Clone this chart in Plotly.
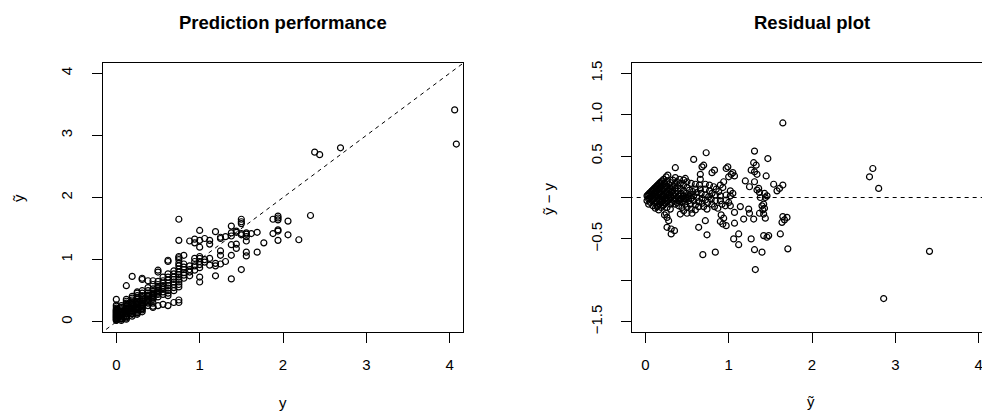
import plotly.graph_objects as go

# Observed responses (y) and their model predictions (ỹ), grouped by observed value
y_obs = [
    0.00, 0.00, 0.00, 0.00, 0.00, 0.00, 0.00, 0.00, 0.00, 0.00, 0.00, 0.00, 0.00, 0.00, 0.00, 0.00, 0.00, 0.00, 0.00,
    0.06, 0.06, 0.06, 0.06, 0.06, 0.06, 0.06, 0.06, 0.06, 0.06, 0.06, 0.06, 0.06,
    0.12, 0.12, 0.12, 0.12, 0.12, 0.12, 0.12, 0.12, 0.12, 0.12, 0.12, 0.12, 0.12, 0.12, 0.12, 0.12, 0.12,
    0.19, 0.19, 0.19, 0.19, 0.19, 0.19, 0.19, 0.19, 0.19, 0.19, 0.19, 0.19, 0.19, 0.19, 0.19, 0.19,
    0.25, 0.25, 0.25, 0.25, 0.25, 0.25, 0.25, 0.25, 0.25, 0.25, 0.25, 0.25, 0.25, 0.25, 0.25, 0.25,
    0.31, 0.31, 0.31, 0.31, 0.31, 0.31, 0.31, 0.31, 0.31, 0.31, 0.31, 0.31, 0.31, 0.31, 0.31,
    0.38, 0.38, 0.38, 0.38, 0.38, 0.38, 0.38, 0.38, 0.38, 0.38,
    0.44, 0.44, 0.44, 0.44, 0.44, 0.44, 0.44, 0.44, 0.44, 0.44, 0.44,
    0.50, 0.50, 0.50, 0.50, 0.50, 0.50, 0.50, 0.50, 0.50, 0.50, 0.50,
    0.56, 0.56, 0.56, 0.56, 0.56, 0.56, 0.56, 0.56, 0.56,
    0.62, 0.62, 0.62, 0.62, 0.62, 0.62, 0.62, 0.62, 0.62, 0.62, 0.62, 0.62,
    0.69, 0.69, 0.69, 0.69, 0.69, 0.69, 0.69, 0.69, 0.69,
    0.75, 0.75, 0.75, 0.75, 0.75, 0.75, 0.75, 0.75, 0.75, 0.75, 0.75, 0.75, 0.75, 0.75, 0.75, 0.75, 0.75,
    0.81, 0.81, 0.81, 0.81, 0.81, 0.81, 0.81,
    0.88, 0.88, 0.88, 0.88, 0.88,
    0.94, 0.94, 0.94, 0.94, 0.94, 0.94,
    1.00, 1.00, 1.00, 1.00, 1.00, 1.00, 1.00, 1.00, 1.00, 1.00,
    1.06, 1.06, 1.06,
    1.12, 1.12, 1.12, 1.12,
    1.19, 1.19, 1.19, 1.19,
    1.25, 1.25, 1.25, 1.25, 1.25,
    1.31, 1.31,
    1.38, 1.38, 1.38, 1.38, 1.38, 1.38,
    1.44, 1.44, 1.44, 1.44,
    1.50, 1.50, 1.50, 1.50, 1.50, 1.50,
    1.56, 1.56, 1.56, 1.56, 1.56, 1.56,
    1.62,
    1.69, 1.69,
    1.77,
    1.88, 1.88,
    1.94, 1.94, 1.94, 1.94, 1.94, 1.94,
    2.06, 2.06,
    2.19,
    2.33,
    2.38,
    2.44,
    2.69,
    4.06,
    4.08,
    # second batch of low-valued observations
    0.00, 0.00, 0.00, 0.00,
    0.06, 0.06, 0.06, 0.06,
    0.12, 0.12, 0.12, 0.12, 0.12,
    0.19, 0.19, 0.19, 0.19, 0.19,
    0.25, 0.25, 0.25, 0.25, 0.25,
    0.31, 0.31, 0.31, 0.31,
    0.38, 0.38, 0.38,
    0.44, 0.44, 0.44,
    0.50, 0.50,
]

y_pred = [
    0.02, 0.03, 0.05, 0.06, 0.08, 0.09, 0.10, 0.11, 0.12, 0.13, 0.14, 0.16, 0.17, 0.19, 0.20, 0.22, 0.25, 0.27, 0.36,
    0.02, 0.04, 0.06, 0.08, 0.10, 0.11, 0.13, 0.15, 0.17, 0.19, 0.21, 0.23, 0.26,
    0.04, 0.06, 0.08, 0.10, 0.12, 0.14, 0.16, 0.18, 0.20, 0.22, 0.24, 0.26, 0.28, 0.30, 0.33, 0.36, 0.58,
    0.09, 0.12, 0.14, 0.16, 0.18, 0.20, 0.22, 0.24, 0.26, 0.28, 0.30, 0.32, 0.35, 0.38, 0.41, 0.73,
    0.12, 0.15, 0.17, 0.19, 0.21, 0.23, 0.25, 0.27, 0.29, 0.31, 0.33, 0.36, 0.39, 0.42, 0.46, 0.48,
    0.16, 0.19, 0.21, 0.24, 0.26, 0.28, 0.31, 0.33, 0.36, 0.39, 0.42, 0.46, 0.50, 0.68, 0.70,
    0.26, 0.30, 0.34, 0.37, 0.40, 0.43, 0.46, 0.50, 0.55, 0.66,
    0.23, 0.25, 0.30, 0.36, 0.40, 0.43, 0.46, 0.49, 0.53, 0.60, 0.66,
    0.26, 0.40, 0.44, 0.48, 0.51, 0.54, 0.57, 0.60, 0.65, 0.80, 0.83,
    0.28, 0.44, 0.48, 0.52, 0.55, 0.58, 0.62, 0.66, 0.72,
    0.26, 0.42, 0.46, 0.50, 0.54, 0.58, 0.62, 0.67, 0.72, 0.77, 0.97, 0.99,
    0.31, 0.50, 0.55, 0.60, 0.64, 0.68, 0.72, 0.77, 0.82,
    0.31, 0.35, 0.56, 0.60, 0.64, 0.68, 0.72, 0.76, 0.80, 0.85, 0.90, 0.94, 1.00, 1.03, 1.05, 1.31, 1.65,
    0.70, 0.75, 0.79, 0.84, 0.88, 0.93, 1.07,
    0.74, 0.80, 0.84, 0.90, 1.30,
    0.83, 0.90, 0.97, 1.02, 1.27, 1.33,
    0.64, 0.72, 0.87, 0.92, 0.97, 1.02, 1.05, 1.20, 1.31, 1.47,
    0.96, 1.00, 1.34,
    0.91, 1.02, 1.25, 1.31,
    0.74, 0.90, 0.94, 1.45,
    0.93, 1.07, 1.14, 1.34, 1.36,
    0.97, 1.37,
    0.69, 1.07, 1.24, 1.38, 1.43, 1.54,
    1.18, 1.25, 1.44, 1.46,
    0.84, 1.40, 1.42, 1.58, 1.61, 1.65,
    1.06, 1.12, 1.30, 1.37, 1.41, 1.43,
    1.42,
    1.12, 1.44,
    1.27,
    1.42, 1.65,
    1.31, 1.46, 1.48, 1.64, 1.67, 1.70,
    1.40, 1.62,
    1.32,
    1.71,
    2.73,
    2.69,
    2.80,
    3.41,
    2.86,
    # second batch of low-valued observations
    0.04, 0.07, 0.15, 0.18,
    0.05, 0.09, 0.12, 0.16,
    0.09, 0.13, 0.17, 0.21, 0.25,
    0.13, 0.17, 0.21, 0.25, 0.29,
    0.14, 0.20, 0.24, 0.28, 0.32,
    0.22, 0.27, 0.30, 0.34,
    0.32, 0.36, 0.42,
    0.38, 0.42, 0.45,
    0.46, 0.50,
]

# Residuals ỹ − y
residual = [round(p - o, 4) for p, o in zip(y_pred, y_obs)]

perf_ticks = [0, 1, 2, 3, 4]
resid_yticks = [-1.5, -1.0, -0.5, 0.0, 0.5, 1.0, 1.5]
resid_yticktext = ["\u22121.5", "", "\u22120.5", "", "0.5", "1.0", "1.5"]

W, H = 982, 413
FONT = "Liberation Sans, Arial, Helvetica, sans-serif"


def px_x(p):
    return p / W


def px_y(p):
    return (H - p) / H


marker = dict(symbol="circle-open", size=6, color="black",
              line=dict(width=1.2, color="black"))
dash_line = dict(color="black", width=1, dash="4px,4px")

fig = go.Figure()
fig.add_trace(go.Scatter(x=y_obs, y=y_pred, mode="markers", marker=marker,
                         xaxis="x", yaxis="y", hoverinfo="skip"))
fig.add_trace(go.Scatter(x=[-0.2, 4.2], y=[-0.2, 4.2], mode="lines", line=dash_line,
                         xaxis="x", yaxis="y", hoverinfo="skip"))
fig.add_trace(go.Scatter(x=y_pred, y=residual, mode="markers", marker=marker,
                         xaxis="x2", yaxis="y2", hoverinfo="skip"))
fig.add_trace(go.Scatter(x=[-0.2, 4.2], y=[0, 0], mode="lines", line=dash_line,
                         xaxis="x2", yaxis="y2", hoverinfo="skip"))

axis_common = dict(
    showline=True, linecolor="black", linewidth=1,
    ticks="outside", ticklen=10, tickwidth=1, tickcolor="black",
    showgrid=False, zeroline=False, automargin=False,
    ticklabeloverflow="allow",
    tickfont=dict(family=FONT, size=15, color="black"),
)

y_dom = [px_y(331.7), px_y(63.3)]

fig.update_layout(
    width=W, height=H,
    margin=dict(l=0, r=0, t=0, b=0),
    paper_bgcolor="white", plot_bgcolor="white",
    showlegend=False,
    template="none",
    xaxis=dict(domain=[px_x(103), px_x(463)], range=[-0.16, 4.16],
               tickvals=perf_ticks, mirror=True, anchor="y",
               ticklabelstandoff=9, **axis_common),
    yaxis=dict(domain=y_dom, range=[-0.16, 4.16], tickvals=perf_ticks,
               tickangle=-90, mirror=True, anchor="x",
               ticklabelstandoff=14, **axis_common),
    xaxis2=dict(domain=[px_x(632), 1.0], range=[-0.16, 4.04],
                tickvals=perf_ticks, mirror=True, anchor="y2",
                ticklabelstandoff=9, **axis_common),
    yaxis2=dict(domain=y_dom, range=[-1.62, 1.62], tickvals=resid_yticks,
                ticktext=resid_yticktext, tickangle=-90, mirror=False,
                anchor="x2", ticklabelstandoff=13, **axis_common),
)

ann_font = dict(family=FONT, size=15, color="black")
title_font = dict(family=FONT, size=18.5, color="black")
annotations = [
    dict(text="<b>Prediction performance</b>", x=px_x(283), y=px_y(22), font=title_font),
    dict(text="<b>Residual plot</b>", x=px_x(812), y=px_y(22), font=title_font),
    dict(text="y", x=px_x(283), y=px_y(402), font=ann_font),
    dict(text="ỹ", x=px_x(18), y=px_y(198), font=ann_font, textangle=-90),
    dict(text="ỹ − y", x=px_x(548), y=px_y(199), font=ann_font, textangle=-90),
    dict(text="ỹ", x=px_x(811), y=px_y(401), font=ann_font),
]
for a in annotations:
    a.update(xref="paper", yref="paper", xanchor="center", yanchor="middle",
             showarrow=False)
fig.update_layout(annotations=annotations)

fig.write_html("out.html")
